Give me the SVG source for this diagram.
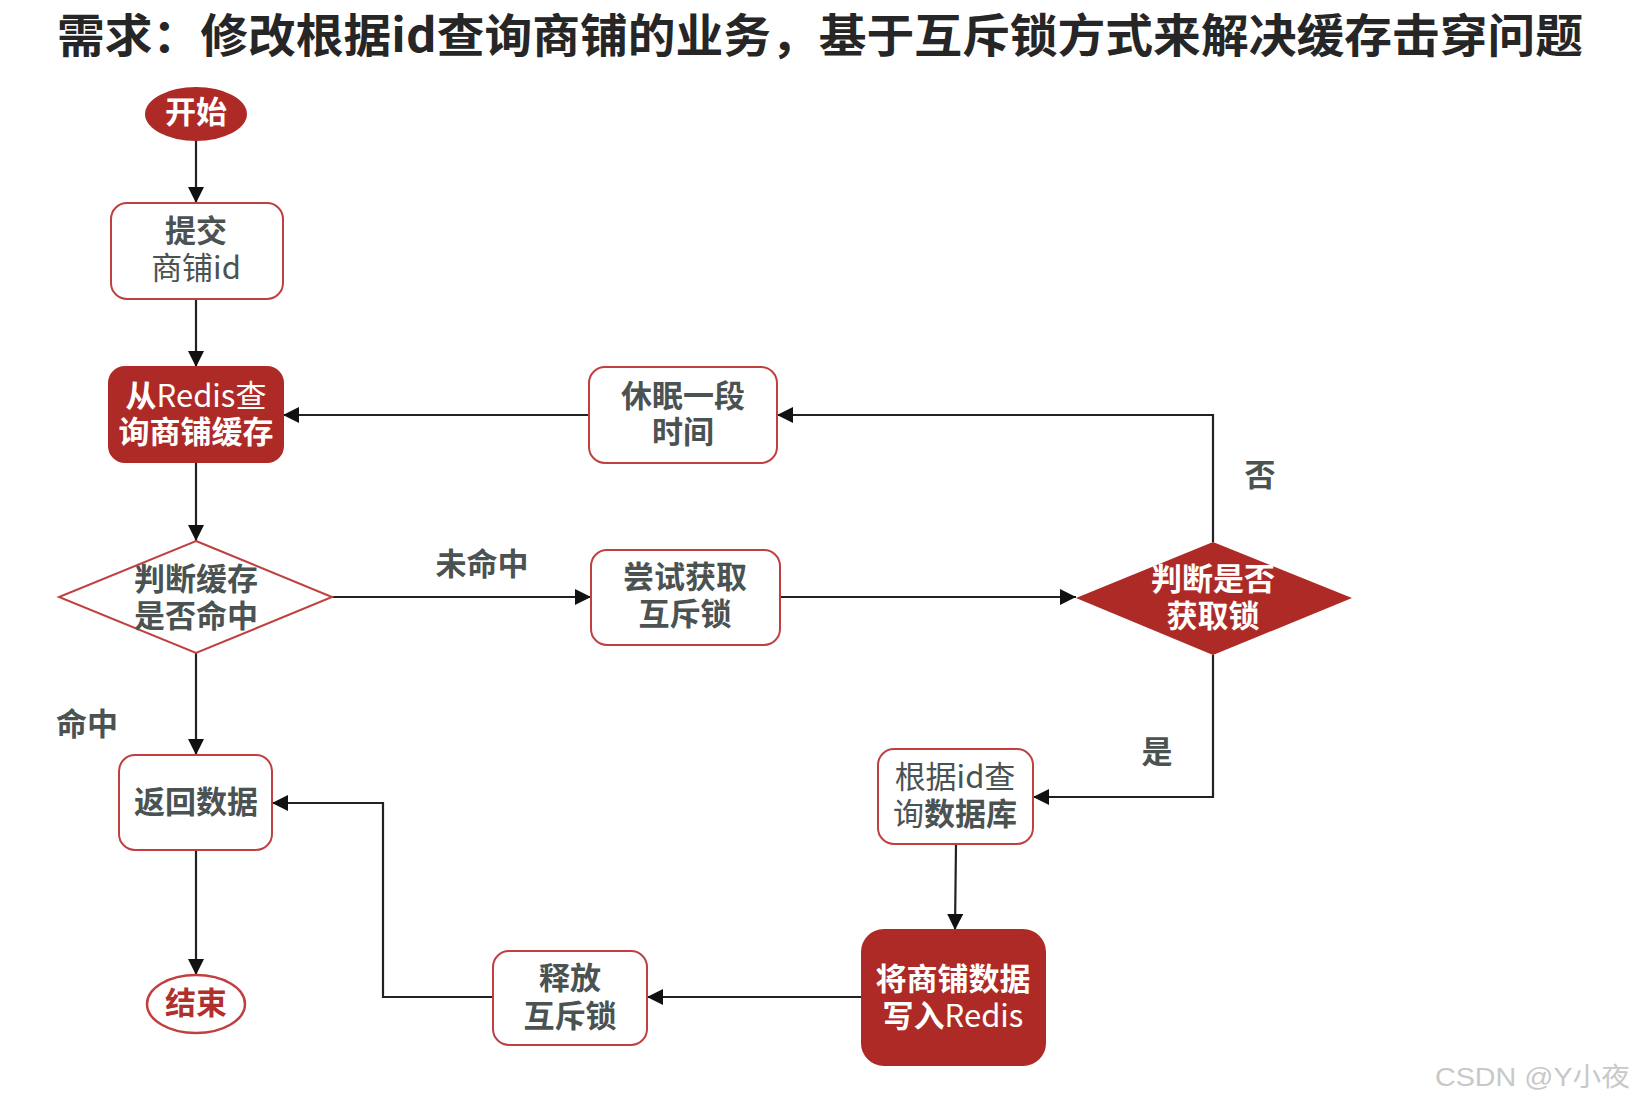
<svg xmlns="http://www.w3.org/2000/svg" width="1636" height="1105" viewBox="0 0 1636 1105">
<style>
.t{font-family:"Noto Sans CJK SC","Noto Sans",sans-serif;font-size:31px;text-anchor:middle;dominant-baseline:central;fill:#4b5252}
.b{font-weight:bold}
.r{font-weight:normal}
.w{fill:#ffffff}
.box{fill:#ffffff;stroke:#c0403f;stroke-width:2}
.fbox{fill:#ae2a26;stroke:#ae2a26;stroke-width:2}
.c{fill:none;stroke:#222;stroke-width:2.2}
</style>
<defs>
<marker id="arr" viewBox="0 0 10 10" refX="10" refY="5" markerWidth="16" markerHeight="16" markerUnits="userSpaceOnUse" orient="auto">
<path d="M0,0 L10,5 L0,10 z" fill="#111"/>
</marker>
</defs>
<rect width="1636" height="1105" fill="#ffffff"/>
<text x="57" y="52" font-family="'Noto Sans CJK SC',sans-serif" font-size="46" font-weight="bold" fill="#262626" textLength="1526" lengthAdjust="spacingAndGlyphs">需求：修改根据id查询商铺的业务，基于互斥锁方式来解决缓存击穿问题</text>

<g id="connectors">
<path class="c" d="M196 141 V203" marker-end="url(#arr)"/>
<path class="c" d="M196 299 V367" marker-end="url(#arr)"/>
<path class="c" d="M196 462 V541" marker-end="url(#arr)"/>
<path class="c" d="M196 653 V755" marker-end="url(#arr)"/>
<path class="c" d="M196 850 V975" marker-end="url(#arr)"/>
<path class="c" d="M332 597 H591" marker-end="url(#arr)"/>
<path class="c" d="M780 597 H1076" marker-end="url(#arr)"/>
<path class="c" d="M1213 542 V415 H777" marker-end="url(#arr)"/>
<path class="c" d="M589 415 H283" marker-end="url(#arr)"/>
<path class="c" d="M1213 655 V797 H1033" marker-end="url(#arr)"/>
<path class="c" d="M956 844 L955 930" marker-end="url(#arr)"/>
<path class="c" d="M862 997 H647" marker-end="url(#arr)"/>
<path class="c" d="M493 997 H383 V803 H272" marker-end="url(#arr)"/>
<text class="t b" x="482" y="561">未命中</text>
<text class="t b" x="1260" y="472">否</text>
<text class="t b" x="87" y="721">命中</text>
<text class="t b" x="1157" y="749">是</text>
</g>

<g id="start">
<ellipse cx="196" cy="114" rx="51" ry="27" fill="#ae2a26"/>
<text class="t b w" x="196" y="109">开始</text>
</g>
<g id="submit">
<rect class="box" x="111" y="203" width="172" height="96" rx="16"/>
<text class="t b" x="196" y="228">提交</text>
<text class="t r" x="196" y="265">商铺id</text>
</g>
<g id="queryRedis">
<rect class="fbox" x="109" y="367" width="174" height="95" rx="16"/>
<text class="t w" x="196" y="393"><tspan font-weight="bold">从</tspan><tspan font-weight="normal">Redis查</tspan></text>
<text class="t b w" x="196" y="429">询商铺缓存</text>
</g>
<g id="checkHit">
<polygon points="196,541 332,597 196,653 59,597" fill="#ffffff" stroke="#c0403f" stroke-width="2"/>
<text class="t b" x="196" y="576">判断缓存</text>
<text class="t b" x="196" y="613">是否命中</text>
</g>
<g id="returnData">
<rect class="box" x="119" y="755" width="153" height="95" rx="16"/>
<text class="t b" x="196" y="799">返回数据</text>
</g>
<g id="end">
<ellipse cx="196" cy="1004" rx="49" ry="29" fill="#ffffff" stroke="#c0403f" stroke-width="2.5"/>
<text class="t b" x="196" y="1000" style="fill:#b0302c">结束</text>
</g>
<g id="sleep">
<rect class="box" x="589" y="367" width="188" height="96" rx="16"/>
<text class="t b" x="683" y="393">休眠一段</text>
<text class="t b" x="683" y="429">时间</text>
</g>
<g id="tryLock">
<rect class="box" x="591" y="550" width="189" height="95" rx="16"/>
<text class="t b" x="685" y="574">尝试获取</text>
<text class="t b" x="685" y="611">互斥锁</text>
</g>
<g id="checkLock">
<polygon points="1213,542 1352,598 1213,655 1076,598" fill="#ae2a26"/>
<text class="t b w" x="1213" y="576">判断是否</text>
<text class="t b w" x="1213" y="613">获取锁</text>
</g>
<g id="queryDb">
<rect class="box" x="878" y="749" width="155" height="95" rx="16"/>
<text class="t r" x="955" y="774">根据id查</text>
<text class="t" x="955" y="811"><tspan font-weight="normal">询</tspan><tspan font-weight="bold">数据库</tspan></text>
</g>
<g id="writeRedis">
<rect class="fbox" x="862" y="930" width="183" height="135" rx="22"/>
<text class="t b w" x="953" y="976">将商铺数据</text>
<text class="t w" x="953" y="1013"><tspan font-weight="bold">写入</tspan><tspan font-weight="normal">Redis</tspan></text>
</g>
<g id="releaseLock">
<rect class="box" x="493" y="951" width="154" height="94" rx="16"/>
<text class="t b" x="570" y="975">释放</text>
<text class="t b" x="570" y="1013">互斥锁</text>
</g>
<text x="1435" y="1086" font-family="'Liberation Sans','Noto Sans CJK SC',sans-serif" font-size="26" fill="#c8c8c8" textLength="195" lengthAdjust="spacingAndGlyphs">CSDN @Y小夜</text>
</svg>
